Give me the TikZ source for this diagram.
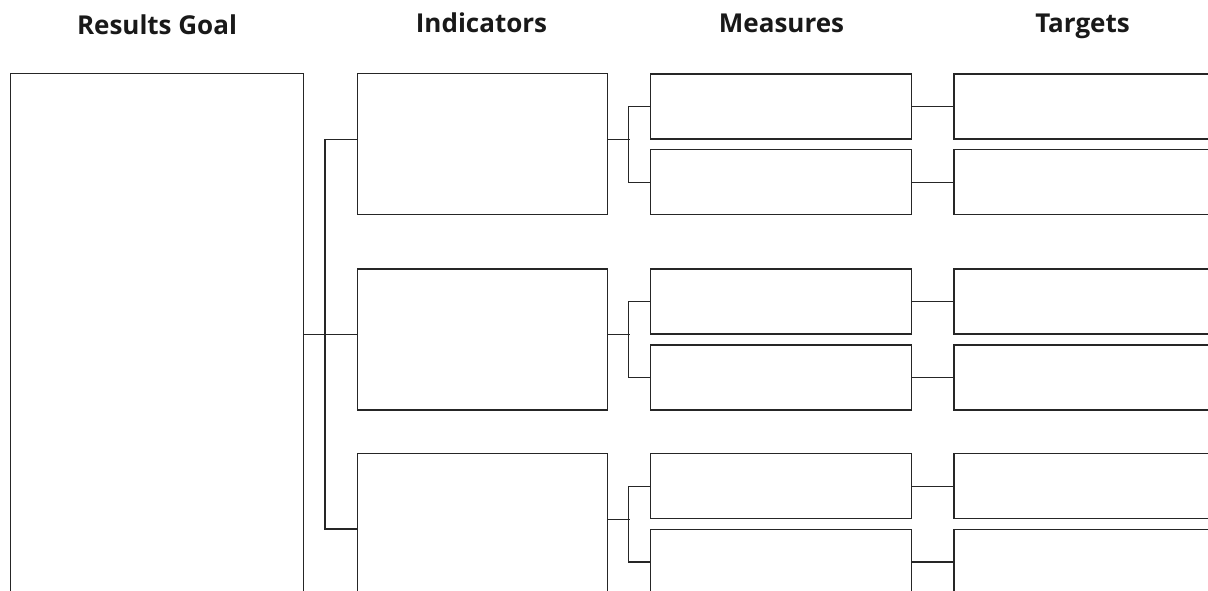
\documentclass[tikz,border=0pt]{standalone}
\usepackage{fontspec}
\setmainfont{Open Sans}
\begin{document}
\begin{tikzpicture}[x=1pt,y=-1pt,
  box/.style={draw=black!85,line width=1.4pt,rectangle,inner sep=0pt,anchor=north west},
  head/.style={font=\bfseries\fontsize{26}{32}\selectfont,anchor=base,inner sep=0pt,text=black!90},
  conn/.style={draw=black!85,line width=1.4pt}]
\useasboundingbox (0,0) rectangle (1208,590);
\clip (0,0) rectangle (1208,590);
\fill[white] (0,0) rectangle (1208,590);
% headers
\node[head] (hG) at (157,34) {Results Goal};
\node[head] (hI) at (481.5,32) {Indicators};
\node[head] (hM) at (781.5,32) {Measures};
\node[head] (hT) at (1082.5,32.5) {Targets};
% goal
\node[box,minimum width=293pt,minimum height=600pt] (G) at (10,73) {};
% indicators
\node[box,minimum width=250pt,minimum height=141pt] (I1) at (357,73) {};
\node[box,minimum width=250pt,minimum height=141pt] (I2) at (357,268.3) {};
\node[box,minimum width=250pt,minimum height=200pt] (I3) at (357,453) {};
% measures
\node[box,minimum width=261pt,minimum height=65pt] (M1) at (650,73.3) {};
\node[box,minimum width=261pt,minimum height=65pt] (M2) at (650,149) {};
\node[box,minimum width=261pt,minimum height=65pt] (M3) at (650,268.3) {};
\node[box,minimum width=261pt,minimum height=65pt] (M4) at (650,344.3) {};
\node[box,minimum width=261pt,minimum height=65pt] (M5) at (650,453) {};
\node[box,minimum width=261pt,minimum height=100pt] (M6) at (650,529) {};
% targets
\node[box,minimum width=300pt,minimum height=65pt] (T1) at (953.3,73.3) {};
\node[box,minimum width=300pt,minimum height=65pt] (T2) at (953.3,149) {};
\node[box,minimum width=300pt,minimum height=65pt] (T3) at (953.3,268.3) {};
\node[box,minimum width=300pt,minimum height=65pt] (T4) at (953.3,344.3) {};
\node[box,minimum width=300pt,minimum height=65pt] (T5) at (953.3,453) {};
\node[box,minimum width=300pt,minimum height=100pt] (T6) at (953.3,529) {};
% goal to indicators
\draw[conn] (G.east |- M3.south) -- (I2.west |- M3.south);
\draw[conn] (I1.west |- M1.south) -- ++(-32,0) |- (I3.west |- M6.north);
% indicators to measures
\draw[conn] (I1.east |- M1.south) -- ++(22,0);
\draw[conn] (M1.west) -- ++(-21.5,0) |- (M2.west);
\draw[conn] (I2.east |- M3.south) -- ++(22,0);
\draw[conn] (M3.west) -- ++(-21.5,0) |- (M4.west);
\draw[conn] (I3.east |- M5.south) -- ++(22,0);
\draw[conn] (M5.west) -- ++(-21.5,0) |- (M6.west |- 0,562);
% measures to targets
\draw[conn] (M1.east) -- (T1.west);
\draw[conn] (M2.east) -- (T2.west);
\draw[conn] (M3.east) -- (T3.west);
\draw[conn] (M4.east) -- (T4.west);
\draw[conn] (M5.east) -- (T5.west);
\draw[conn] (M6.east |- 0,562) -- (T6.west |- 0,562);
\end{tikzpicture}
\end{document}
